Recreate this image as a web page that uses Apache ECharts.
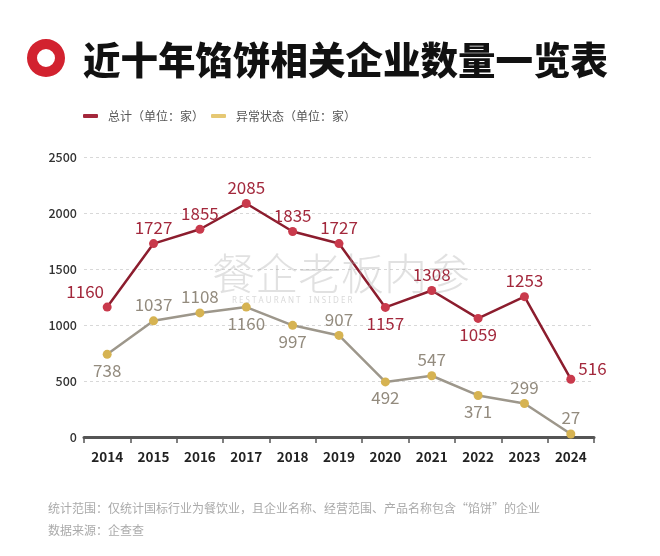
<!DOCTYPE html>
<html><head><meta charset="utf-8">
<script src="https://cdn.jsdelivr.net/npm/echarts@6/dist/echarts.min.js"></script>
<style>html,body{margin:0;padding:0;background:#fff}#c{width:660px;height:556px}</style>
</head><body><div id="c"></div>
<script>
const years = ['2014','2015','2016','2017','2018','2019','2020','2021','2022','2023','2024'];
const totalValues = [1160,1727,1855,2085,1835,1727,1157,1308,1059,1253,516];
const abnormalValues = [738,1037,1108,1160,997,907,492,547,371,299,27];
const yMin = 0, yMax = 2500, yStep = 500;
const seriesNames = ['总计（单位：家）','异常状态（单位：家）'];
const titleText = '近十年馅饼相关企业数量一览表';
const noteLines = ['统计范围：仅统计国标行业为餐饮业，且企业名称、经营范围、产品名称包含“馅饼”的企业','数据来源：企查查'];

// label placement styles
const totalLabelPos = ['top','top','top','top','top','top','bottom','top','bottom','top','right'];
const totalLabelOff = [[-22,0],[0,0],[0,0],[0,0],[0,0],[0,0],[0,0],[0,0],[0,0],[0,0],[0,-11]];
const abnLabelPos = ['bottom','top','top','bottom','bottom','top','bottom','top','bottom','top','top'];

const FF = '"Noto Sans CJK SC","Noto Sans",sans-serif';
const chart = echarts.init(document.getElementById('c'), null, {renderer:'canvas'});

function items(vals, pos, off){
  return vals.map((v,i)=>({value:v, label:{position:pos[i], offset: off ? off[i] : [0,0]}}));
}

chart.setOption({
  backgroundColor:'#fff',
  textStyle:{fontFamily:FF},
  animation:false,
  grid:{left:84, right:66, top:157, bottom:119},
  legend:{
    left:83, top:110, padding:0, itemWidth:15, itemHeight:4, itemGap:7,
    textStyle:{fontSize:12, color:'#555', fontFamily:FF, padding:[0,0,0,5]},
    data:[
      {name:seriesNames[0], icon:'roundRect', itemStyle:{color:'#a4283b'}},
      {name:seriesNames[1], icon:'roundRect', itemStyle:{color:'#e6c873'}}
    ]
  },
  xAxis:{
    type:'category', data:years, boundaryGap:true,
    axisLine:{show:true, lineStyle:{color:'#555', width:3}},
    axisTick:{show:true, length:6, lineStyle:{color:'#555', width:1.5}},
    axisLabel:{color:'#222', fontSize:13.5, fontWeight:'bold', margin:13, fontFamily:FF}
  },
  yAxis:{
    type:'value', min:yMin, max:yMax, interval:yStep,
    axisLine:{show:false}, axisTick:{show:false},
    axisLabel:{color:'#333', fontSize:12.5, fontWeight:500, margin:7, fontFamily:FF, formatter:(v)=>String(v)},
    splitLine:{lineStyle:{color:'#d8d8d8', type:[3,3], width:1}}
  },
  series:[
    {
      name:seriesNames[0], type:'line', data:items(totalValues,totalLabelPos,totalLabelOff),
      symbol:'circle', symbolSize:9, z:3,
      lineStyle:{color:'#8c1d2e', width:2.5},
      itemStyle:{color:'#c93a4c'},
      label:{show:true, color:'#a3283c', fontSize:17, distance:3, fontFamily:FF}
    },
    {
      name:seriesNames[1], type:'line', data:items(abnormalValues,abnLabelPos,null),
      symbol:'circle', symbolSize:9, z:2,
      lineStyle:{color:'#9d978b', width:2.5},
      itemStyle:{color:'#d6b352'},
      label:{show:true, color:'#938b7e', fontSize:17, distance:3, fontFamily:FF}
    }
  ],
  graphic:[
    {type:'ring', shape:{cx:46, cy:58, r:19, r0:9}, style:{fill:'#d2222f'}},
    {type:'text', x:83, y:60, style:{text:titleText, font:'900 37.5px "Noto Sans CJK SC"', fill:'#111', textVerticalAlign:'middle', verticalAlign:'middle'}},
    {type:'text', left:48, top:502, style:{text:noteLines[0], font:'12px "Noto Sans CJK SC"', fill:'#aaa'}},
    {type:'text', left:48, top:524, style:{text:noteLines[1], font:'12px "Noto Sans CJK SC"', fill:'#aaa'}},
    {type:'text', left:212, top:252, z:10, style:{text:'餐企老板内参', font:'300 43px "Noto Sans CJK SC"', fill:'rgba(170,170,170,0.35)'}},
    {type:'text', left:232, top:297, z:10, style:{text:'R E S T A U R A N T    I N S I D E R', font:'8px "Noto Sans"', fill:'rgba(170,170,170,0.45)'}}
  ]
});
</script>
</body></html>
